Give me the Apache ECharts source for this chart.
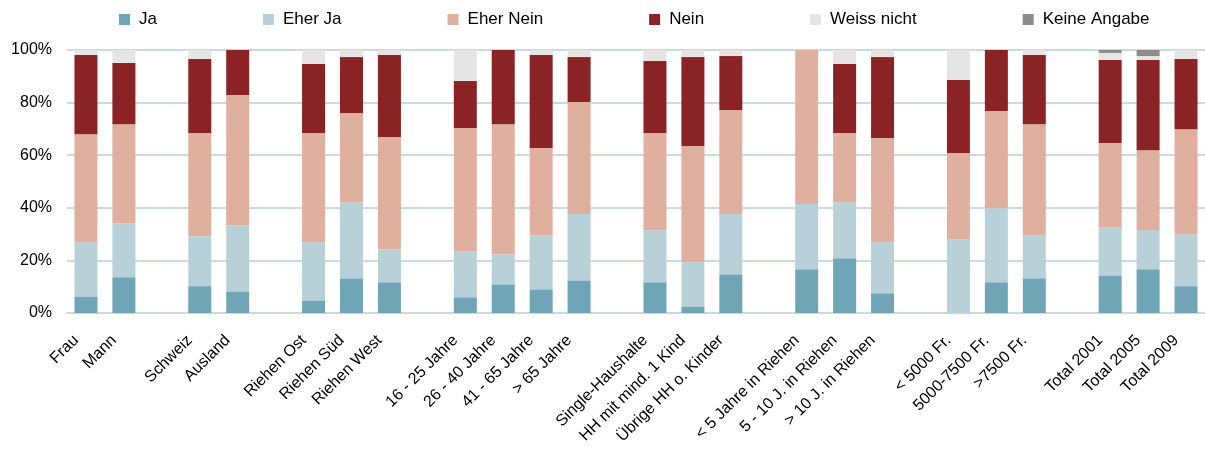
<!DOCTYPE html>
<html>
<head>
<meta charset="utf-8">
<script src="https://cdn.jsdelivr.net/npm/echarts@6/dist/echarts.min.js"></script>
<style>
  html, body { margin: 0; padding: 0; background: #fff; }
  #chart { width: 1205px; height: 452px; }
</style>
</head>
<body>
<div id="chart"></div>
<script>
// categories, '' marks the empty slot between groups
const categories = [
  'Frau', 'Mann', '',
  'Schweiz', 'Ausland', '',
  'Riehen Ost', 'Riehen Süd', 'Riehen West', '',
  '16 - 25 Jahre', '26 - 40 Jahre', '41 - 65 Jahre', '> 65 Jahre', '',
  'Single-Haushalte', 'HH mit mind. 1 Kind', 'Übrige HH o. Kinder', '',
  '< 5 Jahre in Riehen', '5 - 10 J. in Riehen', '> 10 J. in Riehen', '',
  '< 5000 Fr.', '5000-7500 Fr.', '>7500 Fr.', '',
  'Total 2001', 'Total 2005', 'Total 2009'
]

// shares in percent
const ja = [
  6.3, 13.6, '-',
  10.2, 8.2, '-',
  4.8, 13.2, 11.7, '-',
  6.0, 10.9, 9.0, 12.4, '-',
  11.7, 2.5, 14.7, '-',
  16.6, 20.8, 7.5, '-',
  0, 11.7, 13.2, '-',
  14.3, 16.6, 10.2
]
const eherJa = [
  20.6, 20.5, '-',
  19.0, 25.2, '-',
  22.1, 28.9, 12.5, '-',
  17.5, 11.4, 20.6, 25.2, '-',
  19.8, 16.8, 22.9, '-',
  24.8, 21.3, 19.4, '-',
  28.0, 28.1, 16.4, '-',
  18.3, 14.9, 19.7
]
const eherNein = [
  41.1, 37.7, '-',
  39.2, 49.5, '-',
  41.5, 33.9, 42.7, '-',
  46.8, 49.5, 33.1, 42.6, '-',
  36.9, 44.2, 39.6, '-',
  58.6, 26.3, 39.6, '-',
  32.8, 37.0, 42.2, '-',
  32.0, 30.4, 40.0
]
const nein = [
  30.1, 23.3, '-',
  28.2, 17.1, '-',
  26.3, 21.3, 31.2, '-',
  17.9, 28.2, 35.4, 17.1, '-',
  27.4, 33.8, 20.5, '-',
  0, 26.3, 30.8, '-',
  27.8, 23.2, 26.3, '-',
  31.6, 34.3, 26.7
]
const weissNicht = [
  1.9, 4.9, '-',
  3.4, 0, '-',
  5.3, 2.7, 1.9, '-',
  11.8, 0, 1.9, 2.7, '-',
  4.2, 2.7, 2.3, '-',
  0, 5.3, 2.7, '-',
  11.4, 0, 1.9, '-',
  2.7, 1.5, 3.4
]
const keineAngabe = [
  0, 0, '-',
  0, 0, '-',
  0, 0, 0, '-',
  0, 0, 0, 0, '-',
  0, 0, 0, '-',
  0, 0, 0, '-',
  0, 0, 0, '-',
  1.1, 2.3, 0
]

const yTicks = [0, 20, 40, 60, 80, 100]

const font = 'Liberation Sans, Arial, sans-serif'

function bar (name, data, color) {
  return {
    name: name,
    type: 'bar',
    stack: 'all',
    barWidth: 23,
    data: data,
    itemStyle: { color: color }
  }
}

const chart = echarts.init(document.getElementById('chart'))

chart.setOption({
  animation: false,
  textStyle: { fontFamily: font },
  legend: {
    left: 119,
    top: 11,
    padding: 0,
    itemWidth: 11,
    itemHeight: 11,
    itemGap: 106,
    icon: 'rect',
    textStyle: { fontSize: 17, color: '#000', padding: [0, 0, 0, 4] },
    data: ['Ja', 'Eher Ja', 'Eher Nein', 'Nein', 'Weiss nicht', 'Keine Angabe']
  },
  grid: {
    left: 67,
    right: 0,
    top: 50,
    bottom: 139
  },
  xAxis: {
    type: 'category',
    data: categories,
    axisLine: { show: true, lineStyle: { color: '#c9dbe2', width: 2 } },
    axisTick: { show: false },
    axisLabel: {
      interval: 0,
      rotate: 45,
      margin: 15,
      padding: [0, 14, 0, 0],
      fontSize: 16,
      color: '#000',
      fontFamily: font
    }
  },
  yAxis: {
    type: 'value',
    min: yTicks[0],
    max: yTicks[yTicks.length - 1],
    interval: 20,
    axisLine: { show: false },
    axisTick: { show: false },
    splitLine: { lineStyle: { color: '#c9dbe2', width: 2 } },
    axisLabel: {
      margin: 15,
      fontSize: 16,
      color: '#000',
      fontFamily: font,
      formatter: '{value}%'
    }
  },
  series: [
    bar('Ja', ja, '#70a4b7'),
    bar('Eher Ja', eherJa, '#b8d0d8'),
    bar('Eher Nein', eherNein, '#dfb09d'),
    bar('Nein', nein, '#8b2325'),
    bar('Weiss nicht', weissNicht, '#e5e5e5'),
    bar('Keine Angabe', keineAngabe, '#8c8c8c')
  ]
})
</script>
</body>
</html>
